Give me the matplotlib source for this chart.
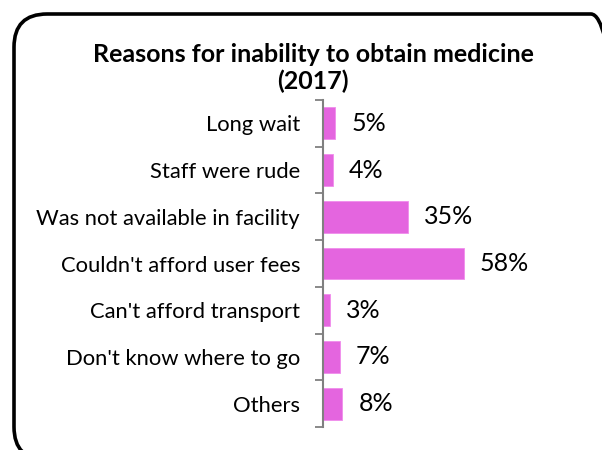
import matplotlib.pyplot as plt
from matplotlib.patches import FancyBboxPatch

plt.rcParams["font.family"] = ["Lato", "DejaVu Sans"]

reasons = [
    "Long wait",
    "Staff were rude",
    "Was not available in facility",
    "Couldn't afford user fees",
    "Can't afford transport",
    "Don't know where to go",
    "Others",
]
shares = [5, 4, 35, 58, 3, 7, 8]

W, H = 602, 450
fig = plt.figure(figsize=(W / 100, H / 100), dpi=100)

# rounded frame around the whole chart
frame = FancyBboxPatch(
    (14 / W, -10 / H), (W + 8) / W, (H - 14 + 10) / H,
    boxstyle="round,pad=0,rounding_size=0.055",
    transform=fig.transFigure, fill=False, edgecolor="black", linewidth=2.6,
    mutation_aspect=W / H,
)
fig.patches.append(frame)

ax = fig.add_axes([323 / W, 1 - 427 / H, (595 - 323) / W, (427 - 100) / H])
pos = list(range(len(reasons)))
ax.barh(pos, shares, height=0.68, color="#E465DF", edgecolor="#F08CEC", linewidth=0.6)

px_per_pct = 141 / 58
ax.set_xlim(0, (595 - 323) / px_per_pct)
ax.set_ylim(len(reasons) - 0.5, -0.5)

for p, v in zip(pos, shares):
    ax.text(v + 16 / px_per_pct, p, f"{v}%", va="center", ha="left", fontsize=18, color="black")

ax.set_yticks(pos)
ax.set_yticklabels(reasons, fontsize=15.8)
ax.set_yticks([p - 0.5 for p in pos] + [len(reasons) - 0.5], minor=True)
ax.tick_params(axis="y", which="major", length=0, pad=16.5)
ax.tick_params(axis="y", which="minor", length=6, width=1.3, color="#808080")
ax.set_xticks([])
for side in ["top", "right", "bottom"]:
    ax.spines[side].set_visible(False)
ax.spines["left"].set_color("#808080")
ax.spines["left"].set_linewidth(1.5)

fig.text(313 / W, 1 - 55 / H, "Reasons for inability to obtain medicine", ha="center", va="center",
         fontsize=18, fontweight="bold")
fig.text(313 / W, 1 - 81 / H, "(2017)", ha="center", va="center", fontsize=18, fontweight="bold")

fig.savefig("out.png", dpi=100)
